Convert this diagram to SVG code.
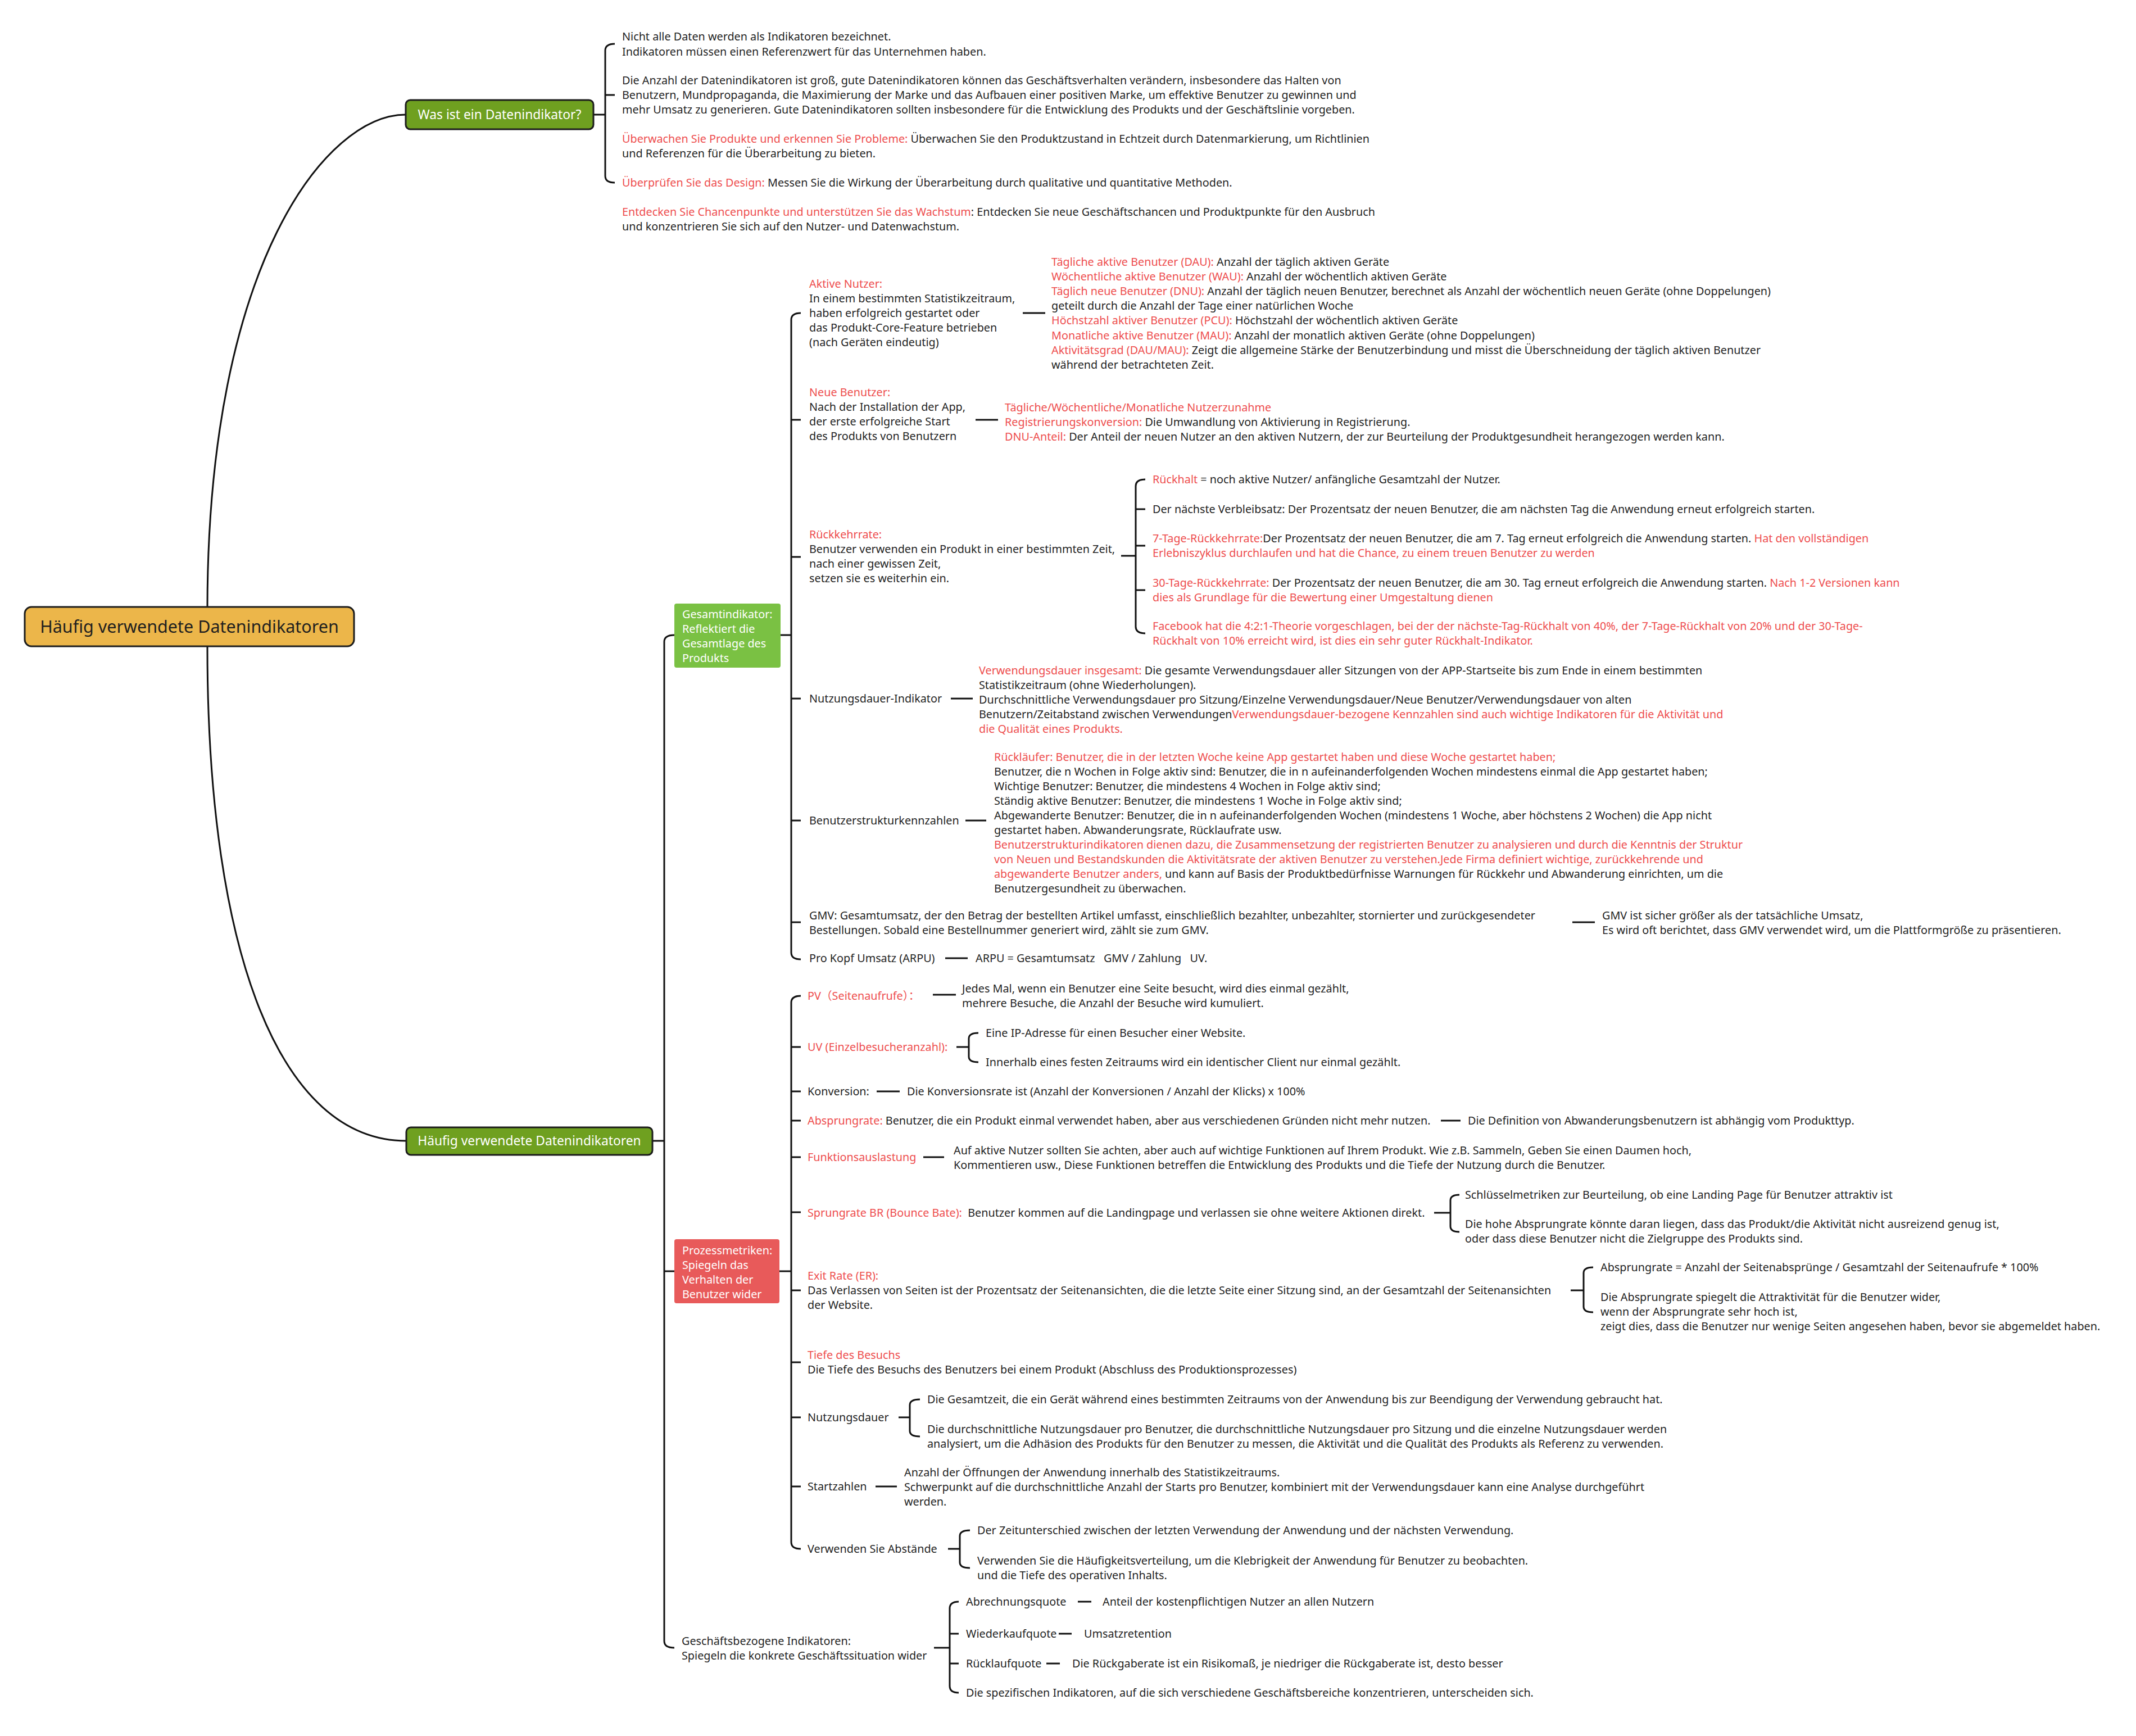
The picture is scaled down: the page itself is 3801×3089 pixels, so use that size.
<svg xmlns="http://www.w3.org/2000/svg" width="3801" height="3089" viewBox="0 0 3801 3089">
<style>
text{font-family:"Noto Sans","Open Sans","Liberation Sans",sans-serif;font-size:19.8px;fill:#1f1f1f}
.r{fill:#ee4d4d}
.w{fill:#ffffff}
.pre{white-space:pre}
.cjk{font-family:"Noto Sans","Noto Sans CJK SC",sans-serif}
.ln{fill:none;stroke:#111;stroke-width:3;stroke-linecap:butt}
.cv{fill:none;stroke:#111;stroke-width:3}
.root{fill:#ecb64a;stroke:#1c1c1c;stroke-width:3}
.main{fill:#6fa020;stroke:#1c1c1c;stroke-width:3}
</style>
<rect width="3801" height="3089" fill="#ffffff"/>

<g id="connectors">
<path class="cv" d="M369,1080 C370,470 580,204 722,204"/>
<path class="cv" d="M369,1151 C369,1700 500,2030 723,2030"/>
<path class="ln" d="M1056,204 H1077 M1094,78 Q1077,78 1077,90 V313 Q1077,325 1094,325 M1077,169 H1094"/>
<path class="ln" d="M1161,2030 H1182 M1200,1130 Q1182,1130 1182,1142 V2920 Q1182,2932 1200,2932 M1182,2262 H1200"/>
<path class="ln" d="M1389,1130 H1408 M1425,557 Q1408,557 1408,569 V1695 Q1408,1707 1425,1707 M1408,747 H1425 M1408,991 H1425 M1408,1243 H1425 M1408,1460 H1425 M1408,1641 H1425"/>
<path class="ln" d="M1387,2262 H1408 M1425,1772 Q1408,1772 1408,1784 V2744 Q1408,2756 1425,2756 M1408,1863 H1425 M1408,1942 H1425 M1408,1994 H1425 M1408,2059 H1425 M1408,2157 H1425 M1408,2296 H1425 M1408,2424 H1425 M1408,2522 H1425 M1408,2645 H1425"/>
<path class="ln" d="M1662,2932 H1690 M1706,2850 Q1690,2850 1690,2862 V3000 Q1690,3012 1706,3012 M1690,2907 H1706 M1690,2960 H1706"/>
<path class="ln" d="M1995,989 H2021 M2038,853 Q2021,853 2021,865 V1115 Q2021,1127 2038,1127 M2021,906 H2038 M2021,971 H2038 M2021,1050 H2038"/>
<path class="ln" d="M1702,1863 H1724 M1741,1838 Q1724,1838 1724,1848 V1880 Q1724,1890 1741,1890"/>
<path class="ln" d="M2552,2158 H2581 M2597,2126 Q2581,2126 2581,2136 V2182 Q2581,2192 2597,2192"/>
<path class="ln" d="M2795,2296 H2818 M2835,2255 Q2818,2255 2818,2265 V2325 Q2818,2335 2835,2335"/>
<path class="ln" d="M1599,2522 H1619 M1637,2490 Q1619,2490 1619,2500 V2546 Q1619,2556 1637,2556"/>
<path class="ln" d="M1687,2756 H1708 M1726,2723 Q1708,2723 1708,2733 V2780 Q1708,2790 1726,2790"/>
<path class="ln" d="M1820,557 H1860 M1736,747 H1776 M1692,1243 H1731 M1718,1460 H1755 M2798,1641 H2838 M1682,1705 H1722 M1660,1770 H1701 M1560,1942 H1601 M2564,1994 H2599 M1643,2059 H1680 M1558,2645 H1596 M1918,2850 H1942 M1884,2907 H1907 M1862,2960 H1886"/>
</g>

<g id="root">
<rect class="root" x="44" y="1080" width="586" height="70" rx="12"/>
<text x="337" y="1126" text-anchor="middle" style="font-size:30.5px">Häufig verwendete Datenindikatoren</text>
</g>

<g id="was">
<rect class="main" x="722" y="178" width="334" height="52" rx="8"/>
<text class="w" x="889" y="212" text-anchor="middle" style="font-size:22.8px">Was ist ein Datenindikator?</text>
</g>

<g id="was-1">
<text x="1107" y="72">Nicht alle Daten werden als Indikatoren bezeichnet.</text>
<text x="1107" y="99">Indikatoren müssen einen Referenzwert für das Unternehmen haben.</text>
</g>
<g id="was-2">
<text x="1107" y="150">Die Anzahl der Datenindikatoren ist groß, gute Datenindikatoren können das Geschäftsverhalten verändern, insbesondere das Halten von</text>
<text x="1107" y="176">Benutzern, Mundpropaganda, die Maximierung der Marke und das Aufbauen einer positiven Marke, um effektive Benutzer zu gewinnen und</text>
<text x="1107" y="202">mehr Umsatz zu generieren. Gute Datenindikatoren sollten insbesondere für die Entwicklung des Produkts und der Geschäftslinie vorgeben.</text>
</g>
<g id="was-3">
<text x="1107" y="254"><tspan class="r">Überwachen Sie Produkte und erkennen Sie Probleme:</tspan> Überwachen Sie den Produktzustand in Echtzeit durch Datenmarkierung, um Richtlinien</text>
<text x="1107" y="280">und Referenzen für die Überarbeitung zu bieten.</text>
<text x="1107" y="332"><tspan class="r">Überprüfen Sie das Design:</tspan> Messen Sie die Wirkung der Überarbeitung durch qualitative und quantitative Methoden.</text>
<text x="1107" y="384"><tspan class="r">Entdecken Sie Chancenpunkte und unterstützen Sie das Wachstum</tspan>: Entdecken Sie neue Geschäftschancen und Produktpunkte für den Ausbruch</text>
<text x="1107" y="410">und konzentrieren Sie sich auf den Nutzer- und Datenwachstum.</text>
</g>

<g id="haeufig">
<rect class="main" x="723" y="2006" width="438" height="49" rx="8"/>
<text class="w" x="942" y="2038" text-anchor="middle" style="font-size:22.8px">Häufig verwendete Datenindikatoren</text>
</g>

<g id="gesamt">
<rect x="1200" y="1074" width="189" height="114" rx="4" fill="#7ac143"/>
<text class="w" x="1214" y="1100">Gesamtindikator:</text>
<text class="w" x="1214" y="1126">Reflektiert die</text>
<text class="w" x="1214" y="1152">Gesamtlage des</text>
<text class="w" x="1214" y="1178">Produkts</text>
</g>

<g id="aktive">
<text class="r" x="1440" y="512">Aktive Nutzer:</text>
<text x="1440" y="538">In einem bestimmten Statistikzeitraum,</text>
<text x="1440" y="564">haben erfolgreich gestartet oder</text>
<text x="1440" y="590">das Produkt-Core-Feature betrieben</text>
<text x="1440" y="616">(nach Geräten eindeutig)</text>
</g>
<g id="aktive-list">
<text x="1871" y="473"><tspan class="r">Tägliche aktive Benutzer (DAU):</tspan> Anzahl der täglich aktiven Geräte</text>
<text x="1871" y="499"><tspan class="r">Wöchentliche aktive Benutzer (WAU):</tspan> Anzahl der wöchentlich aktiven Geräte</text>
<text x="1871" y="525"><tspan class="r">Täglich neue Benutzer (DNU):</tspan> Anzahl der täglich neuen Benutzer, berechnet als Anzahl der wöchentlich neuen Geräte (ohne Doppelungen)</text>
<text x="1871" y="551">geteilt durch die Anzahl der Tage einer natürlichen Woche</text>
<text x="1871" y="577"><tspan class="r">Höchstzahl aktiver Benutzer (PCU):</tspan> Höchstzahl der wöchentlich aktiven Geräte</text>
<text x="1871" y="604"><tspan class="r">Monatliche aktive Benutzer (MAU):</tspan> Anzahl der monatlich aktiven Geräte (ohne Doppelungen)</text>
<text x="1871" y="630"><tspan class="r">Aktivitätsgrad (DAU/MAU):</tspan> Zeigt die allgemeine Stärke der Benutzerbindung und misst die Überschneidung der täglich aktiven Benutzer</text>
<text x="1871" y="656">während der betrachteten Zeit.</text>
</g>

<g id="neue">
<text class="r" x="1440" y="705">Neue Benutzer:</text>
<text x="1440" y="731">Nach der Installation der App,</text>
<text x="1440" y="757">der erste erfolgreiche Start</text>
<text x="1440" y="783">des Produkts von Benutzern</text>
</g>
<g id="neue-list">
<text class="r" x="1788" y="732">Tägliche/Wöchentliche/Monatliche Nutzerzunahme</text>
<text x="1788" y="758"><tspan class="r">Registrierungskonversion:</tspan> Die Umwandlung von Aktivierung in Registrierung.</text>
<text x="1788" y="784"><tspan class="r">DNU-Anteil:</tspan> Der Anteil der neuen Nutzer an den aktiven Nutzern, der zur Beurteilung der Produktgesundheit herangezogen werden kann.</text>
</g>

<g id="rueckkehr">
<text class="r" x="1440" y="958">Rückkehrrate:</text>
<text x="1440" y="984">Benutzer verwenden ein Produkt in einer bestimmten Zeit,</text>
<text x="1440" y="1010">nach einer gewissen Zeit,</text>
<text x="1440" y="1036">setzen sie es weiterhin ein.</text>
</g>
<g id="rueckhalt">
<text x="2051" y="860"><tspan class="r">Rückhalt</tspan> = noch aktive Nutzer/ anfängliche Gesamtzahl der Nutzer.</text>
</g>
<g id="naechste">
<text x="2051" y="913">Der nächste Verbleibsatz: Der Prozentsatz der neuen Benutzer, die am nächsten Tag die Anwendung erneut erfolgreich starten.</text>
</g>
<g id="sieben">
<text x="2051" y="965"><tspan class="r">7-Tage-Rückkehrrate:</tspan>Der Prozentsatz der neuen Benutzer, die am 7. Tag erneut erfolgreich die Anwendung starten. <tspan class="r">Hat den vollständigen</tspan></text>
<text class="r" x="2051" y="991">Erlebniszyklus durchlaufen und hat die Chance, zu einem treuen Benutzer zu werden</text>
</g>
<g id="dreissig">
<text x="2051" y="1044"><tspan class="r">30-Tage-Rückkehrrate:</tspan> Der Prozentsatz der neuen Benutzer, die am 30. Tag erneut erfolgreich die Anwendung starten. <tspan class="r">Nach 1-2 Versionen kann</tspan></text>
<text class="r" x="2051" y="1070">dies als Grundlage für die Bewertung einer Umgestaltung dienen</text>
</g>
<g id="facebook">
<text class="r" x="2051" y="1121">Facebook hat die 4:2:1-Theorie vorgeschlagen, bei der der nächste-Tag-Rückhalt von 40%, der 7-Tage-Rückhalt von 20% und der 30-Tage-</text>
<text class="r" x="2051" y="1147">Rückhalt von 10% erreicht wird, ist dies ein sehr guter Rückhalt-Indikator.</text>
</g>

<g id="nutzungsdauer-ind">
<text x="1440" y="1250">Nutzungsdauer-Indikator</text>
</g>
<g id="nutzungsdauer-ind-list">
<text x="1742" y="1200"><tspan class="r">Verwendungsdauer insgesamt:</tspan> Die gesamte Verwendungsdauer aller Sitzungen von der APP-Startseite bis zum Ende in einem bestimmten</text>
<text x="1742" y="1226">Statistikzeitraum (ohne Wiederholungen).</text>
<text x="1742" y="1252">Durchschnittliche Verwendungsdauer pro Sitzung/Einzelne Verwendungsdauer/Neue Benutzer/Verwendungsdauer von alten</text>
<text x="1742" y="1278">Benutzern/Zeitabstand zwischen Verwendungen<tspan class="r">Verwendungsdauer-bezogene Kennzahlen sind auch wichtige Indikatoren für die Aktivität und</tspan></text>
<text class="r" x="1742" y="1304">die Qualität eines Produkts.</text>
</g>

<g id="benutzerstruktur">
<text x="1440" y="1467">Benutzerstrukturkennzahlen</text>
</g>
<g id="benutzerstruktur-list">
<text class="r" x="1769" y="1354">Rückläufer: Benutzer, die in der letzten Woche keine App gestartet haben und diese Woche gestartet haben;</text>
<text x="1769" y="1380">Benutzer, die n Wochen in Folge aktiv sind: Benutzer, die in n aufeinanderfolgenden Wochen mindestens einmal die App gestartet haben;</text>
<text x="1769" y="1406">Wichtige Benutzer: Benutzer, die mindestens 4 Wochen in Folge aktiv sind;</text>
<text x="1769" y="1432">Ständig aktive Benutzer: Benutzer, die mindestens 1 Woche in Folge aktiv sind;</text>
<text x="1769" y="1458">Abgewanderte Benutzer: Benutzer, die in n aufeinanderfolgenden Wochen (mindestens 1 Woche, aber höchstens 2 Wochen) die App nicht</text>
<text x="1769" y="1484">gestartet haben. Abwanderungsrate, Rücklaufrate usw.</text>
<text class="r" x="1769" y="1510">Benutzerstrukturindikatoren dienen dazu, die Zusammensetzung der registrierten Benutzer zu analysieren und durch die Kenntnis der Struktur</text>
<text class="r" x="1769" y="1536">von Neuen und Bestandskunden die Aktivitätsrate der aktiven Benutzer zu verstehen.Jede Firma definiert wichtige, zurückkehrende und</text>
<text x="1769" y="1562"><tspan class="r">abgewanderte Benutzer anders,</tspan> und kann auf Basis der Produktbedürfnisse Warnungen für Rückkehr und Abwanderung einrichten, um die</text>
<text x="1769" y="1588">Benutzergesundheit zu überwachen.</text>
</g>

<g id="gmv">
<text x="1440" y="1636">GMV: Gesamtumsatz, der den Betrag der bestellten Artikel umfasst, einschließlich bezahlter, unbezahlter, stornierter und zurückgesendeter</text>
<text x="1440" y="1662">Bestellungen. Sobald eine Bestellnummer generiert wird, zählt sie zum GMV.</text>
</g>
<g id="gmv-note">
<text x="2851" y="1636">GMV ist sicher größer als der tatsächliche Umsatz,</text>
<text x="2851" y="1662">Es wird oft berichtet, dass GMV verwendet wird, um die Plattformgröße zu präsentieren.</text>
</g>
<g id="arpu">
<text x="1440" y="1712">Pro Kopf Umsatz (ARPU)</text>
</g>
<g id="arpu-formel">
<text class="pre" x="1736" y="1712">ARPU = Gesamtumsatz   GMV / Zahlung   UV.</text>
</g>

<g id="prozess">
<rect x="1200" y="2205" width="187" height="114" rx="4" fill="#e85a5a"/>
<text class="w" x="1214" y="2232">Prozessmetriken:</text>
<text class="w" x="1214" y="2258">Spiegeln das</text>
<text class="w" x="1214" y="2284">Verhalten der</text>
<text class="w" x="1214" y="2310">Benutzer wider</text>
</g>

<g id="pv">
<text class="r cjk" x="1437" y="1779">PV（Seitenaufrufe）：</text>
</g>
<g id="pv-text">
<text x="1712" y="1766">Jedes Mal, wenn ein Benutzer eine Seite besucht, wird dies einmal gezählt,</text>
<text x="1712" y="1792">mehrere Besuche, die Anzahl der Besuche wird kumuliert.</text>
</g>
<g id="uv">
<text class="r" x="1437" y="1870">UV (Einzelbesucheranzahl):</text>
</g>
<g id="uv-1"><text x="1754" y="1845">Eine IP-Adresse für einen Besucher einer Website.</text></g>
<g id="uv-2"><text x="1754" y="1897">Innerhalb eines festen Zeitraums wird ein identischer Client nur einmal gezählt.</text></g>
<g id="konversion"><text x="1437" y="1949">Konversion:</text></g>
<g id="konversion-text"><text x="1614" y="1949">Die Konversionsrate ist (Anzahl der Konversionen / Anzahl der Klicks) x 100%</text></g>
<g id="absprung"><text x="1437" y="2001"><tspan class="r">Absprungrate:</tspan> Benutzer, die ein Produkt einmal verwendet haben, aber aus verschiedenen Gründen nicht mehr nutzen.</text></g>
<g id="absprung-text"><text x="2612" y="2001">Die Definition von Abwanderungsbenutzern ist abhängig vom Produkttyp.</text></g>
<g id="funktion"><text class="r" x="1437" y="2066">Funktionsauslastung</text></g>
<g id="funktion-text">
<text x="1697" y="2054">Auf aktive Nutzer sollten Sie achten, aber auch auf wichtige Funktionen auf Ihrem Produkt. Wie z.B. Sammeln, Geben Sie einen Daumen hoch,</text>
<text x="1697" y="2080">Kommentieren usw., Diese Funktionen betreffen die Entwicklung des Produkts und die Tiefe der Nutzung durch die Benutzer.</text>
</g>
<g id="sprung"><text class="pre" x="1437" y="2165"><tspan class="r">Sprungrate BR (Bounce Bate):</tspan>  Benutzer kommen auf die Landingpage und verlassen sie ohne weitere Aktionen direkt.</text></g>
<g id="sprung-1"><text x="2607" y="2133">Schlüsselmetriken zur Beurteilung, ob eine Landing Page für Benutzer attraktiv ist</text></g>
<g id="sprung-2">
<text x="2607" y="2185">Die hohe Absprungrate könnte daran liegen, dass das Produkt/die Aktivität nicht ausreizend genug ist,</text>
<text x="2607" y="2211">oder dass diese Benutzer nicht die Zielgruppe des Produkts sind.</text>
</g>
<g id="exit">
<text class="r" x="1437" y="2277">Exit Rate (ER):</text>
<text x="1437" y="2303">Das Verlassen von Seiten ist der Prozentsatz der Seitenansichten, die die letzte Seite einer Sitzung sind, an der Gesamtzahl der Seitenansichten</text>
<text x="1437" y="2329">der Website.</text>
</g>
<g id="exit-1"><text x="2848" y="2262">Absprungrate = Anzahl der Seitenabsprünge / Gesamtzahl der Seitenaufrufe * 100%</text></g>
<g id="exit-2">
<text x="2848" y="2315">Die Absprungrate spiegelt die Attraktivität für die Benutzer wider,</text>
<text x="2848" y="2341">wenn der Absprungrate sehr hoch ist,</text>
<text x="2848" y="2367">zeigt dies, dass die Benutzer nur wenige Seiten angesehen haben, bevor sie abgemeldet haben.</text>
</g>
<g id="tiefe">
<text class="r" x="1437" y="2418">Tiefe des Besuchs</text>
<text x="1437" y="2444">Die Tiefe des Besuchs des Benutzers bei einem Produkt (Abschluss des Produktionsprozesses)</text>
</g>
<g id="nutzungsdauer"><text x="1437" y="2529">Nutzungsdauer</text></g>
<g id="nutzungsdauer-1"><text x="1650" y="2497">Die Gesamtzeit, die ein Gerät während eines bestimmten Zeitraums von der Anwendung bis zur Beendigung der Verwendung gebraucht hat.</text></g>
<g id="nutzungsdauer-2">
<text x="1650" y="2550">Die durchschnittliche Nutzungsdauer pro Benutzer, die durchschnittliche Nutzungsdauer pro Sitzung und die einzelne Nutzungsdauer werden</text>
<text x="1650" y="2576">analysiert, um die Adhäsion des Produkts für den Benutzer zu messen, die Aktivität und die Qualität des Produkts als Referenz zu verwenden.</text>
</g>
<g id="startzahlen"><text x="1437" y="2652">Startzahlen</text></g>
<g id="startzahlen-text">
<text x="1609" y="2627">Anzahl der Öffnungen der Anwendung innerhalb des Statistikzeitraums.</text>
<text x="1609" y="2653">Schwerpunkt auf die durchschnittliche Anzahl der Starts pro Benutzer, kombiniert mit der Verwendungsdauer kann eine Analyse durchgeführt</text>
<text x="1609" y="2679">werden.</text>
</g>
<g id="abstaende"><text x="1437" y="2763">Verwenden Sie Abstände</text></g>
<g id="abstaende-1"><text x="1739" y="2730">Der Zeitunterschied zwischen der letzten Verwendung der Anwendung und der nächsten Verwendung.</text></g>
<g id="abstaende-2">
<text x="1739" y="2784">Verwenden Sie die Häufigkeitsverteilung, um die Klebrigkeit der Anwendung für Benutzer zu beobachten.</text>
<text x="1739" y="2810">und die Tiefe des operativen Inhalts.</text>
</g>

<g id="geschaeft">
<text x="1213" y="2927">Geschäftsbezogene Indikatoren:</text>
<text x="1213" y="2953">Spiegeln die konkrete Geschäftssituation wider</text>
</g>
<g id="abrechnung"><text x="1719" y="2857">Abrechnungsquote</text></g>
<g id="abrechnung-text"><text x="1962" y="2857">Anteil der kostenpflichtigen Nutzer an allen Nutzern</text></g>
<g id="wiederkauf"><text x="1719" y="2914">Wiederkaufquote</text></g>
<g id="wiederkauf-text"><text x="1929" y="2914">Umsatzretention</text></g>
<g id="ruecklauf"><text x="1719" y="2967">Rücklaufquote</text></g>
<g id="ruecklauf-text"><text x="1908" y="2967">Die Rückgaberate ist ein Risikomaß, je niedriger die Rückgaberate ist, desto besser</text></g>
<g id="spezifisch"><text x="1719" y="3019">Die spezifischen Indikatoren, auf die sich verschiedene Geschäftsbereiche konzentrieren, unterscheiden sich.</text></g>
</svg>
